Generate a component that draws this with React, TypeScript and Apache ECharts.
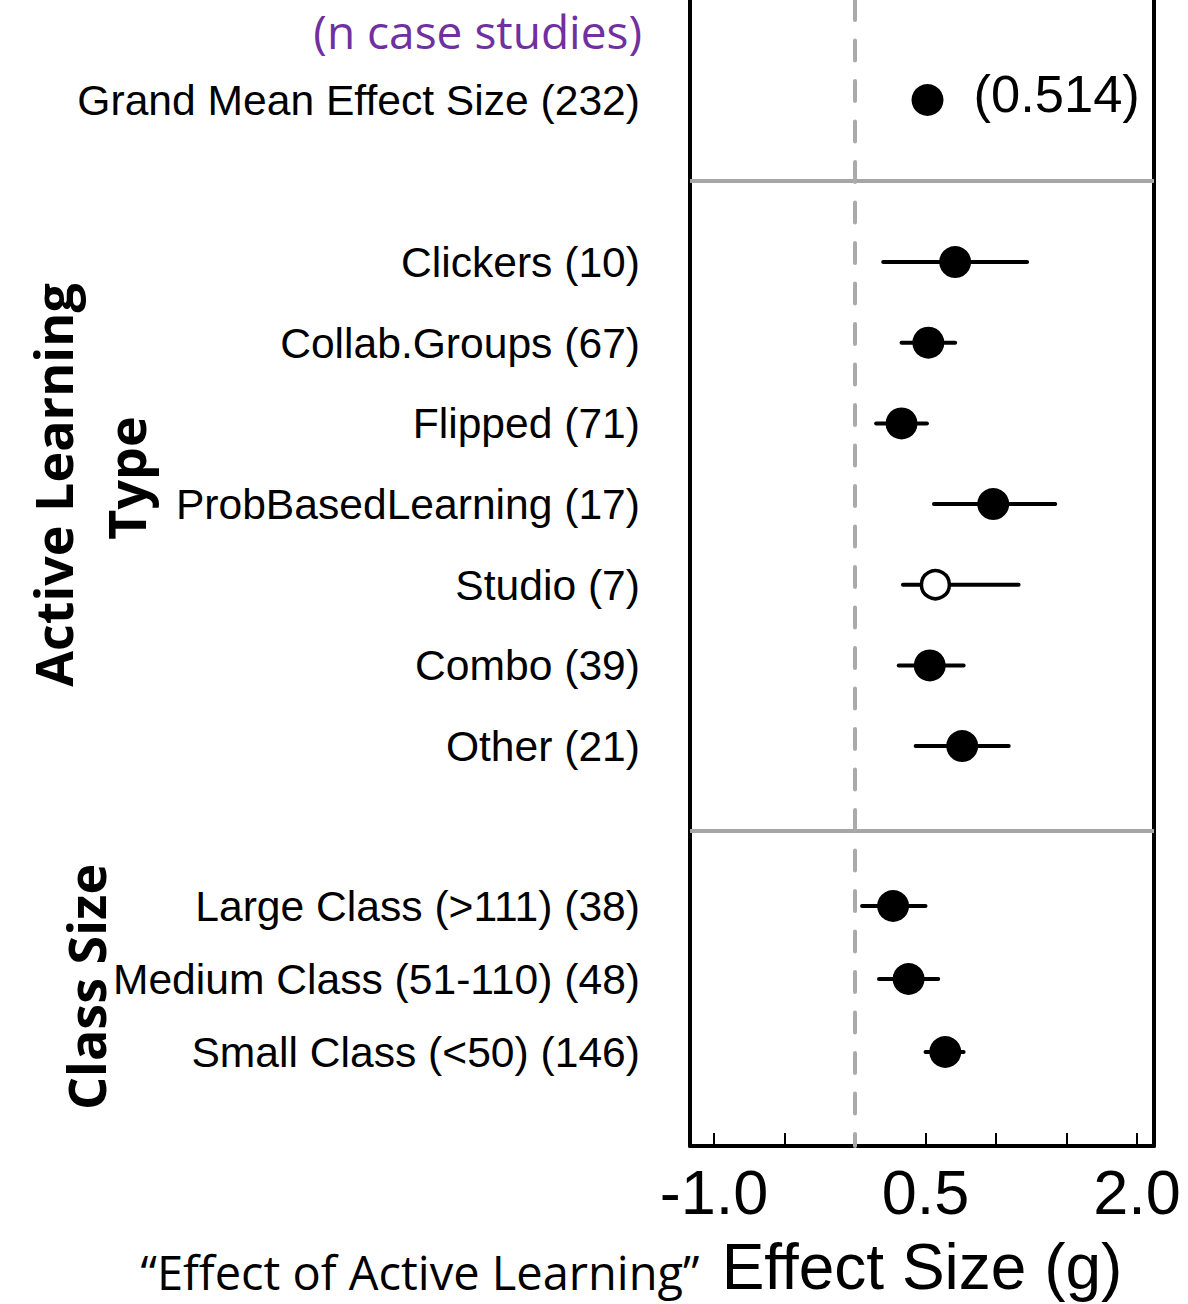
import React, { useEffect, useRef } from "react";
import * as echarts from "echarts";

// Effect-size axis
const X_MIN = -1.17;
const X_MAX = 2.12;
const tickValues = [-1, -0.5, 0, 0.5, 1, 1.5, 2];
const tickLabelValues = [-1, 0.5, 2];
const referenceEffect = [0];

// Grand mean
const grandLabels = ["Grand Mean Effect Size (232)"];
const grandEffect = [0.514];

// Active learning type
const typeLabels = [
  "Clickers (10)",
  "Collab.Groups (67)",
  "Flipped (71)",
  "ProbBasedLearning (17)",
  "Studio (7)",
  "Combo (39)",
  "Other (21)",
];
const typeEffect = [0.71, 0.52, 0.33, 0.98, 0.57, 0.53, 0.76];
const typeLow = [0.2, 0.33, 0.15, 0.56, 0.34, 0.31, 0.43];
const typeHigh = [1.22, 0.71, 0.51, 1.42, 1.16, 0.77, 1.09];
const typeSignificant = [true, true, true, true, false, true, true];

// Class size
const sizeLabels = [
  "Large Class (>111) (38)",
  "Medium Class (51-110) (48)",
  "Small Class (<50) (146)",
];
const sizeEffect = [0.27, 0.38, 0.64];
const sizeLow = [0.05, 0.17, 0.5];
const sizeHigh = [0.5, 0.59, 0.77];
const sizeSignificant = [true, true, true];

const SANS = '"Liberation Sans", Arial, sans-serif';
const HUMANIST = '"Open Sans", "Noto Sans", sans-serif';
const GRID_LEFT = 690;
const GRID_RIGHT = 34;

// grid index == x axis index == y axis index for the data grids (1..3)
function errorBars(lows: number[], highs: number[], gridIndex: number) {
  return {
    type: "custom",
    xAxisIndex: gridIndex,
    yAxisIndex: gridIndex,
    z: 2,
    silent: true,
    data: lows.map((lo, i) => [lo, highs[i], i]),
    encode: { x: [0, 1], y: 2 },
    renderItem: (_params: any, api: any) => {
      const a = api.coord([api.value(0), api.value(2)]);
      const b = api.coord([api.value(1), api.value(2)]);
      return {
        type: "line",
        shape: { x1: a[0], y1: a[1], x2: b[0], y2: b[1] },
        style: { stroke: "#000", lineWidth: 4, lineCap: "round" },
      };
    },
  };
}

function points(effects: number[], significant: boolean[], gridIndex: number) {
  return {
    type: "scatter",
    xAxisIndex: gridIndex,
    yAxisIndex: gridIndex,
    z: 3,
    silent: true,
    symbol: "circle",
    data: effects.map((v, i) =>
      significant[i]
        ? { value: [v, i], symbolSize: 32, itemStyle: { color: "#000", opacity: 1 } }
        : {
            value: [v, i],
            symbolSize: 28,
            itemStyle: {
              color: "#fff",
              borderColor: "#000",
              borderWidth: 3.5,
              opacity: 1,
            },
          }
    ),
  };
}

function categoryAxis(labels: string[], gridIndex: number) {
  return {
    type: "category",
    gridIndex,
    data: labels,
    inverse: true,
    axisLine: { show: false, onZero: false },
    axisTick: { show: false },
    splitLine: { show: false },
    axisLabel: { fontSize: 42.6, color: "#000", fontFamily: SANS, margin: 50 },
  };
}

function hiddenX(gridIndex: number) {
  return {
    type: "value",
    gridIndex,
    min: X_MIN,
    max: X_MAX,
    show: false,
    splitLine: { show: false },
  };
}

function frameY(gridIndex: number, position: string) {
  return {
    type: "value",
    gridIndex,
    min: 0,
    max: 1,
    position,
    axisLine: { show: true, onZero: false, lineStyle: { color: "#000", width: 4 } },
    axisTick: { show: false },
    axisLabel: { show: false },
    splitLine: { show: false },
  };
}

export default function App() {
  const ref = useRef<HTMLDivElement>(null);

  useEffect(() => {
    if (!ref.current) return;
    const chart = echarts.init(ref.current, undefined, { renderer: "svg" });

    const rotatedTitle = (text: string, x: number, y: number) => ({
      type: "text",
      x,
      y,
      rotation: Math.PI / 2,
      style: {
        text,
        fill: "#000",
        fontSize: 52,
        fontWeight: "bold",
        fontFamily: HUMANIST,
        align: "center",
        textAlign: "center",
        verticalAlign: "middle",
        textVerticalAlign: "middle",
      },
    });

    const option: any = {
      animation: false,
      backgroundColor: "#fff",
      grid: [
        { left: GRID_LEFT, right: GRID_RIGHT, top: 0, height: 1150 },
        { left: GRID_LEFT, right: GRID_RIGHT, top: 19, height: 162 },
        { left: GRID_LEFT, right: GRID_RIGHT, top: 221.7, height: 564.7 },
        { left: GRID_LEFT, right: GRID_RIGHT, top: 869.5, height: 219 },
      ],
      xAxis: [
        {
          type: "value",
          gridIndex: 0,
          min: X_MIN,
          max: X_MAX,
          position: "bottom",
          splitLine: { show: false },
          axisLine: { show: true, onZero: false, lineStyle: { color: "#000", width: 4 } },
          axisTick: {
            show: true,
            inside: true,
            length: 13,
            customValues: tickValues,
            lineStyle: { color: "#000", width: 2 },
          },
          axisLabel: {
            customValues: tickLabelValues,
            formatter: (v: number) => v.toFixed(1),
            fontSize: 63,
            color: "#000",
            fontFamily: SANS,
            margin: 14,
          },
          name: "Effect Size (g)",
          nameLocation: "middle",
          nameGap: 121,
          nameTextStyle: {
            fontSize: 64,
            color: "#000",
            fontFamily: SANS,
            verticalAlign: "middle",
          },
        },
        hiddenX(1),
        hiddenX(2),
        hiddenX(3),
      ],
      yAxis: [
        frameY(0, "left"),
        categoryAxis(grandLabels, 1),
        categoryAxis(typeLabels, 2),
        categoryAxis(sizeLabels, 3),
        frameY(0, "right"),
      ],
      graphic: [
        {
          type: "line",
          shape: { x1: GRID_LEFT, y1: 181, x2: 1154, y2: 181 },
          style: { stroke: "#a6a6a6", lineWidth: 4 },
          z: 1,
        },
        {
          type: "line",
          shape: { x1: GRID_LEFT, y1: 831, x2: 1154, y2: 831 },
          style: { stroke: "#a6a6a6", lineWidth: 4 },
          z: 1,
        },
        {
          type: "text",
          x: 642,
          y: 31,
          style: {
            text: "(n case studies)",
            fill: "#7030a0",
            fontSize: 46,
            lineHeight: 50,
            fontFamily: HUMANIST,
            align: "right",
            textAlign: "right",
            verticalAlign: "middle",
            textVerticalAlign: "middle",
          },
        },
        {
          type: "text",
          x: 420,
          y: 1272,
          style: {
            text: "\u201CEffect of Active Learning\u201D",
            fill: "#000",
            fontSize: 47,
            fontFamily: HUMANIST,
            align: "center",
            textAlign: "center",
            verticalAlign: "middle",
            textVerticalAlign: "middle",
          },
        },
        rotatedTitle("Active Learning", 52, 485),
        rotatedTitle("Type", 125, 478),
        rotatedTitle("Class Size", 85, 987),
      ],
      series: [
        {
          // zero-effect reference line
          type: "custom",
          xAxisIndex: 0,
          yAxisIndex: 0,
          z: 1,
          silent: true,
          data: referenceEffect.map((v) => [v]),
          encode: { x: 0 },
          renderItem: (_params: any, api: any) => {
            const top = api.coord([api.value(0), 1]);
            const bottom = api.coord([api.value(0), 0]);
            return {
              type: "line",
              shape: { x1: top[0], y1: top[1], x2: bottom[0], y2: bottom[1] },
              style: {
                stroke: "#aaaaaa",
                lineWidth: 4,
                lineDash: [20, 20.5],
                lineCap: "round",
              },
            };
          },
        },
        {
          type: "scatter",
          xAxisIndex: 1,
          yAxisIndex: 1,
          z: 3,
          silent: true,
          symbol: "circle",
          symbolSize: 32,
          itemStyle: { color: "#000", opacity: 1 },
          label: {
            show: true,
            position: "right",
            distance: 30,
            offset: [0, -7],
            formatter: (p: any) => `(${p.value[0].toFixed(3)})`,
            fontSize: 52.5,
            color: "#000",
            fontFamily: SANS,
          },
          data: grandEffect.map((v, i) => [v, i]),
        },
        errorBars(typeLow, typeHigh, 2),
        points(typeEffect, typeSignificant, 2),
        errorBars(sizeLow, sizeHigh, 3),
        points(sizeEffect, sizeSignificant, 3),
      ],
    };

    chart.setOption(option);
    return () => chart.dispose();
  }, []);

  return (
    <div
      ref={ref}
      style={{ position: "absolute", left: 0, top: 0, width: 1188, height: 1304 }}
    />
  );
}
